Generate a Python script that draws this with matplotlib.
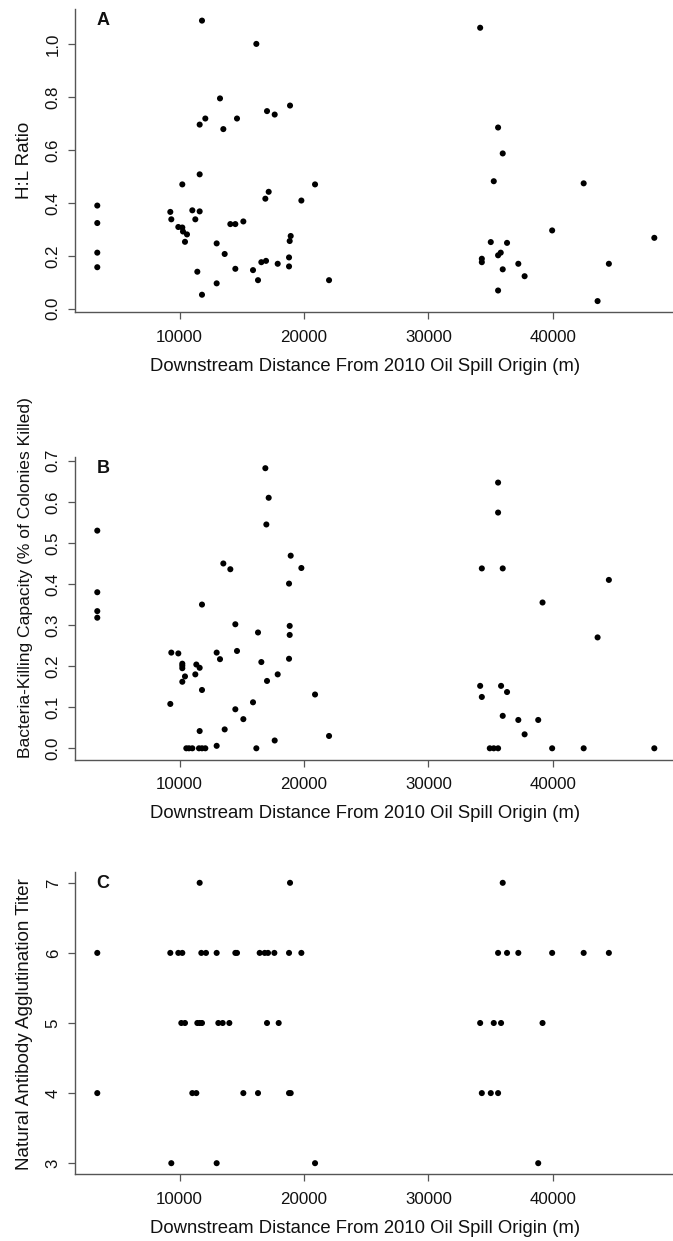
import matplotlib
matplotlib.use("Agg")
import matplotlib.pyplot as plt
import numpy as np

plt.rcParams['font.family'] = ['Liberation Sans', 'DejaVu Sans']

# Panel A: H:L ratio
hl_dist = [3378, 3378, 3378, 3378, 11796, 16166, 13244, 17024, 17641, 18874,
           12064, 11609, 14611, 13512, 11609, 10214, 20885, 17158, 16890, 19786,
           9249, 9330, 11019, 11609, 11260, 9893, 10214, 10268, 10590, 10429,
           14075, 14477, 15121, 12976, 13620, 11421, 12976, 11796, 14477, 15898,
           16300, 16568, 16944, 17882, 18794, 18794, 18847, 18928, 22011,
           34160, 35601, 35974, 35254, 42482, 39948, 48162, 35014, 36321, 35814,
           35601, 34294, 34294, 37228, 44508, 35974, 37734, 35601, 43601]
hl_ratio = [0.390, 0.324, 0.212, 0.157, 1.089, 1.001, 0.795, 0.747, 0.734, 0.768,
            0.719, 0.696, 0.719, 0.679, 0.508, 0.470, 0.470, 0.442, 0.416, 0.409,
            0.366, 0.338, 0.372, 0.368, 0.338, 0.309, 0.307, 0.292, 0.281, 0.253,
            0.320, 0.320, 0.330, 0.247, 0.207, 0.140, 0.096, 0.053, 0.151, 0.146,
            0.108, 0.176, 0.181, 0.170, 0.160, 0.194, 0.256, 0.275, 0.108,
            1.062, 0.685, 0.587, 0.482, 0.474, 0.296, 0.268, 0.252, 0.249, 0.212,
            0.202, 0.189, 0.176, 0.170, 0.170, 0.149, 0.123, 0.069, 0.029]

# Panel B: bacteria-killing capacity
bk_dist = [3378, 3378, 3378, 3378, 16890, 17158, 16971, 18928, 19786, 18794,
           13512, 14075, 11796, 14477, 16300, 18847, 18847, 18794, 9330, 9893,
           10214, 10214, 10214, 10214, 10429, 11341, 11260, 11609, 11796, 12976,
           13244, 14611, 16568, 17024, 17882, 9249, 14477, 15121, 15898, 20885,
           11609, 13620, 12976, 17641, 22011, 10536, 10750, 11019, 11555, 11796,
           12064, 16166,
           35601, 35601, 34294, 35974, 44508, 39175, 43601, 34160, 35841, 36321,
           34294, 35974, 37228, 38828, 37734, 34934, 35254, 35601, 39948, 42482,
           48162]
bk_cap = [0.530, 0.380, 0.334, 0.318, 0.682, 0.610, 0.545, 0.469, 0.439, 0.401,
          0.450, 0.436, 0.350, 0.302, 0.282, 0.298, 0.276, 0.218, 0.233, 0.231,
          0.206, 0.201, 0.195, 0.162, 0.175, 0.204, 0.180, 0.196, 0.142, 0.233,
          0.217, 0.237, 0.210, 0.164, 0.180, 0.108, 0.095, 0.071, 0.112, 0.131,
          0.042, 0.046, 0.006, 0.019, 0.030, 0.0, 0.0, 0.0, 0.0, 0.0,
          0.0, 0.0,
          0.647, 0.574, 0.438, 0.438, 0.410, 0.355, 0.270, 0.152, 0.152, 0.137,
          0.125, 0.079, 0.069, 0.069, 0.034, 0.0, 0.0, 0.0, 0.0, 0.0,
          0.0]

# Panel C: natural antibody agglutination titer
na_dist = [11609, 18874,
           3378, 9249, 9893, 10214, 11743, 12118, 12976, 14477, 14611, 16434,
           16837, 17105, 17614, 18794, 19786,
           10134, 10429, 11421, 11609, 11796, 13111, 13459, 13995, 17024, 17962,
           3378, 11019, 11341, 15121, 16300, 18794, 18928,
           9330, 12976, 20885,
           35974,
           35601, 36321, 37228, 39948, 42482, 44508,
           34160, 35254, 35841, 39175,
           34294, 35014, 35601,
           38828]
na_titer = [7, 7,
            6, 6, 6, 6, 6, 6, 6, 6, 6, 6,
            6, 6, 6, 6, 6,
            5, 5, 5, 5, 5, 5, 5, 5, 5, 5,
            4, 4, 4, 4, 4, 4, 4,
            3, 3, 3,
            7,
            6, 6, 6, 6, 6, 6,
            5, 5, 5, 5,
            4, 4, 4,
            3]

panels = [
    (hl_dist, hl_ratio, "H:L Ratio", "A", [0.0, 0.2, 0.4, 0.6, 0.8, 1.0], "%.1f"),
    (bk_dist, bk_cap, "Bacteria-Killing Capacity (% of Colonies Killed)", "B",
     [0.0, 0.1, 0.2, 0.3, 0.4, 0.5, 0.6, 0.7], "%.1f"),
    (na_dist, na_titer, "Natural Antibody Agglutination Titer", "C", [3, 4, 5, 6, 7], "%d"),
]

xticks = [10000, 20000, 30000, 40000]
xlabel = "Downstream Distance From 2010 Oil Spill Origin (m)"

W, H = 673, 1241
fig = plt.figure(figsize=(W / 100, H / 100), dpi=100)

# pixel boxes: (top, bottom)
boxes = [(9.4, 312.3), (457.0, 759.5), (871.6, 1174.4)]
left_px, right_px = 75.0, 676.6
ylab_style = [(13.5, 0.5), (12.6, 0.603), (13.6, 0.495)]

all_x = np.concatenate([np.asarray(p[0], float) for p in panels])
xlo, xhi = all_x.min(), all_x.max()
xpad = 0.04 * (xhi - xlo)

axis_col = "#555555"
text_col = "#111111"

for (xd, yd, ylab, letter, yt, fmt), (top, bot), (ylfs, ylpos) in zip(panels, boxes, ylab_style):
    ax = fig.add_axes([left_px / W, 1 - bot / H, (right_px - left_px) / W, (bot - top) / H])
    ax.scatter(xd, yd, s=19, color="black", edgecolors="none", zorder=3)
    ax.set_xlim(xlo - xpad, xhi + xpad)
    y = np.asarray(yd, float)
    ypad = 0.04 * (y.max() - y.min())
    ax.set_ylim(y.min() - ypad, y.max() + ypad)
    for s in ("top", "right"):
        ax.spines[s].set_visible(False)
    for s in ("left", "bottom"):
        ax.spines[s].set_color(axis_col)
        ax.spines[s].set_linewidth(1.0)
    ax.set_xticks(xticks)
    ax.set_xticklabels([str(v) for v in xticks])
    ax.set_yticks(yt)
    ax.set_yticklabels([fmt % v for v in yt], rotation=90, va="center")
    ax.tick_params(axis="both", direction="out", length=4.8, width=0.9, color=axis_col,
                   labelsize=12.2, labelcolor=text_col)
    ax.tick_params(axis="x", pad=8)
    ax.tick_params(axis="y", pad=5.5)
    ax.set_xlabel(xlabel, fontsize=13.3, color=text_col, labelpad=9.5)
    ax.xaxis.label.set_x(0.482)
    ax.set_ylabel(ylab, fontsize=ylfs, color=text_col, labelpad=9)
    ax.yaxis.label.set_y(ylpos)
    ax.text(0.0465, 0.962, letter, transform=ax.transAxes, fontsize=13, fontweight="bold",
            ha="center", va="center", color=text_col)
    ax.patch.set_alpha(0)

fig.savefig("out.png", dpi=100)
